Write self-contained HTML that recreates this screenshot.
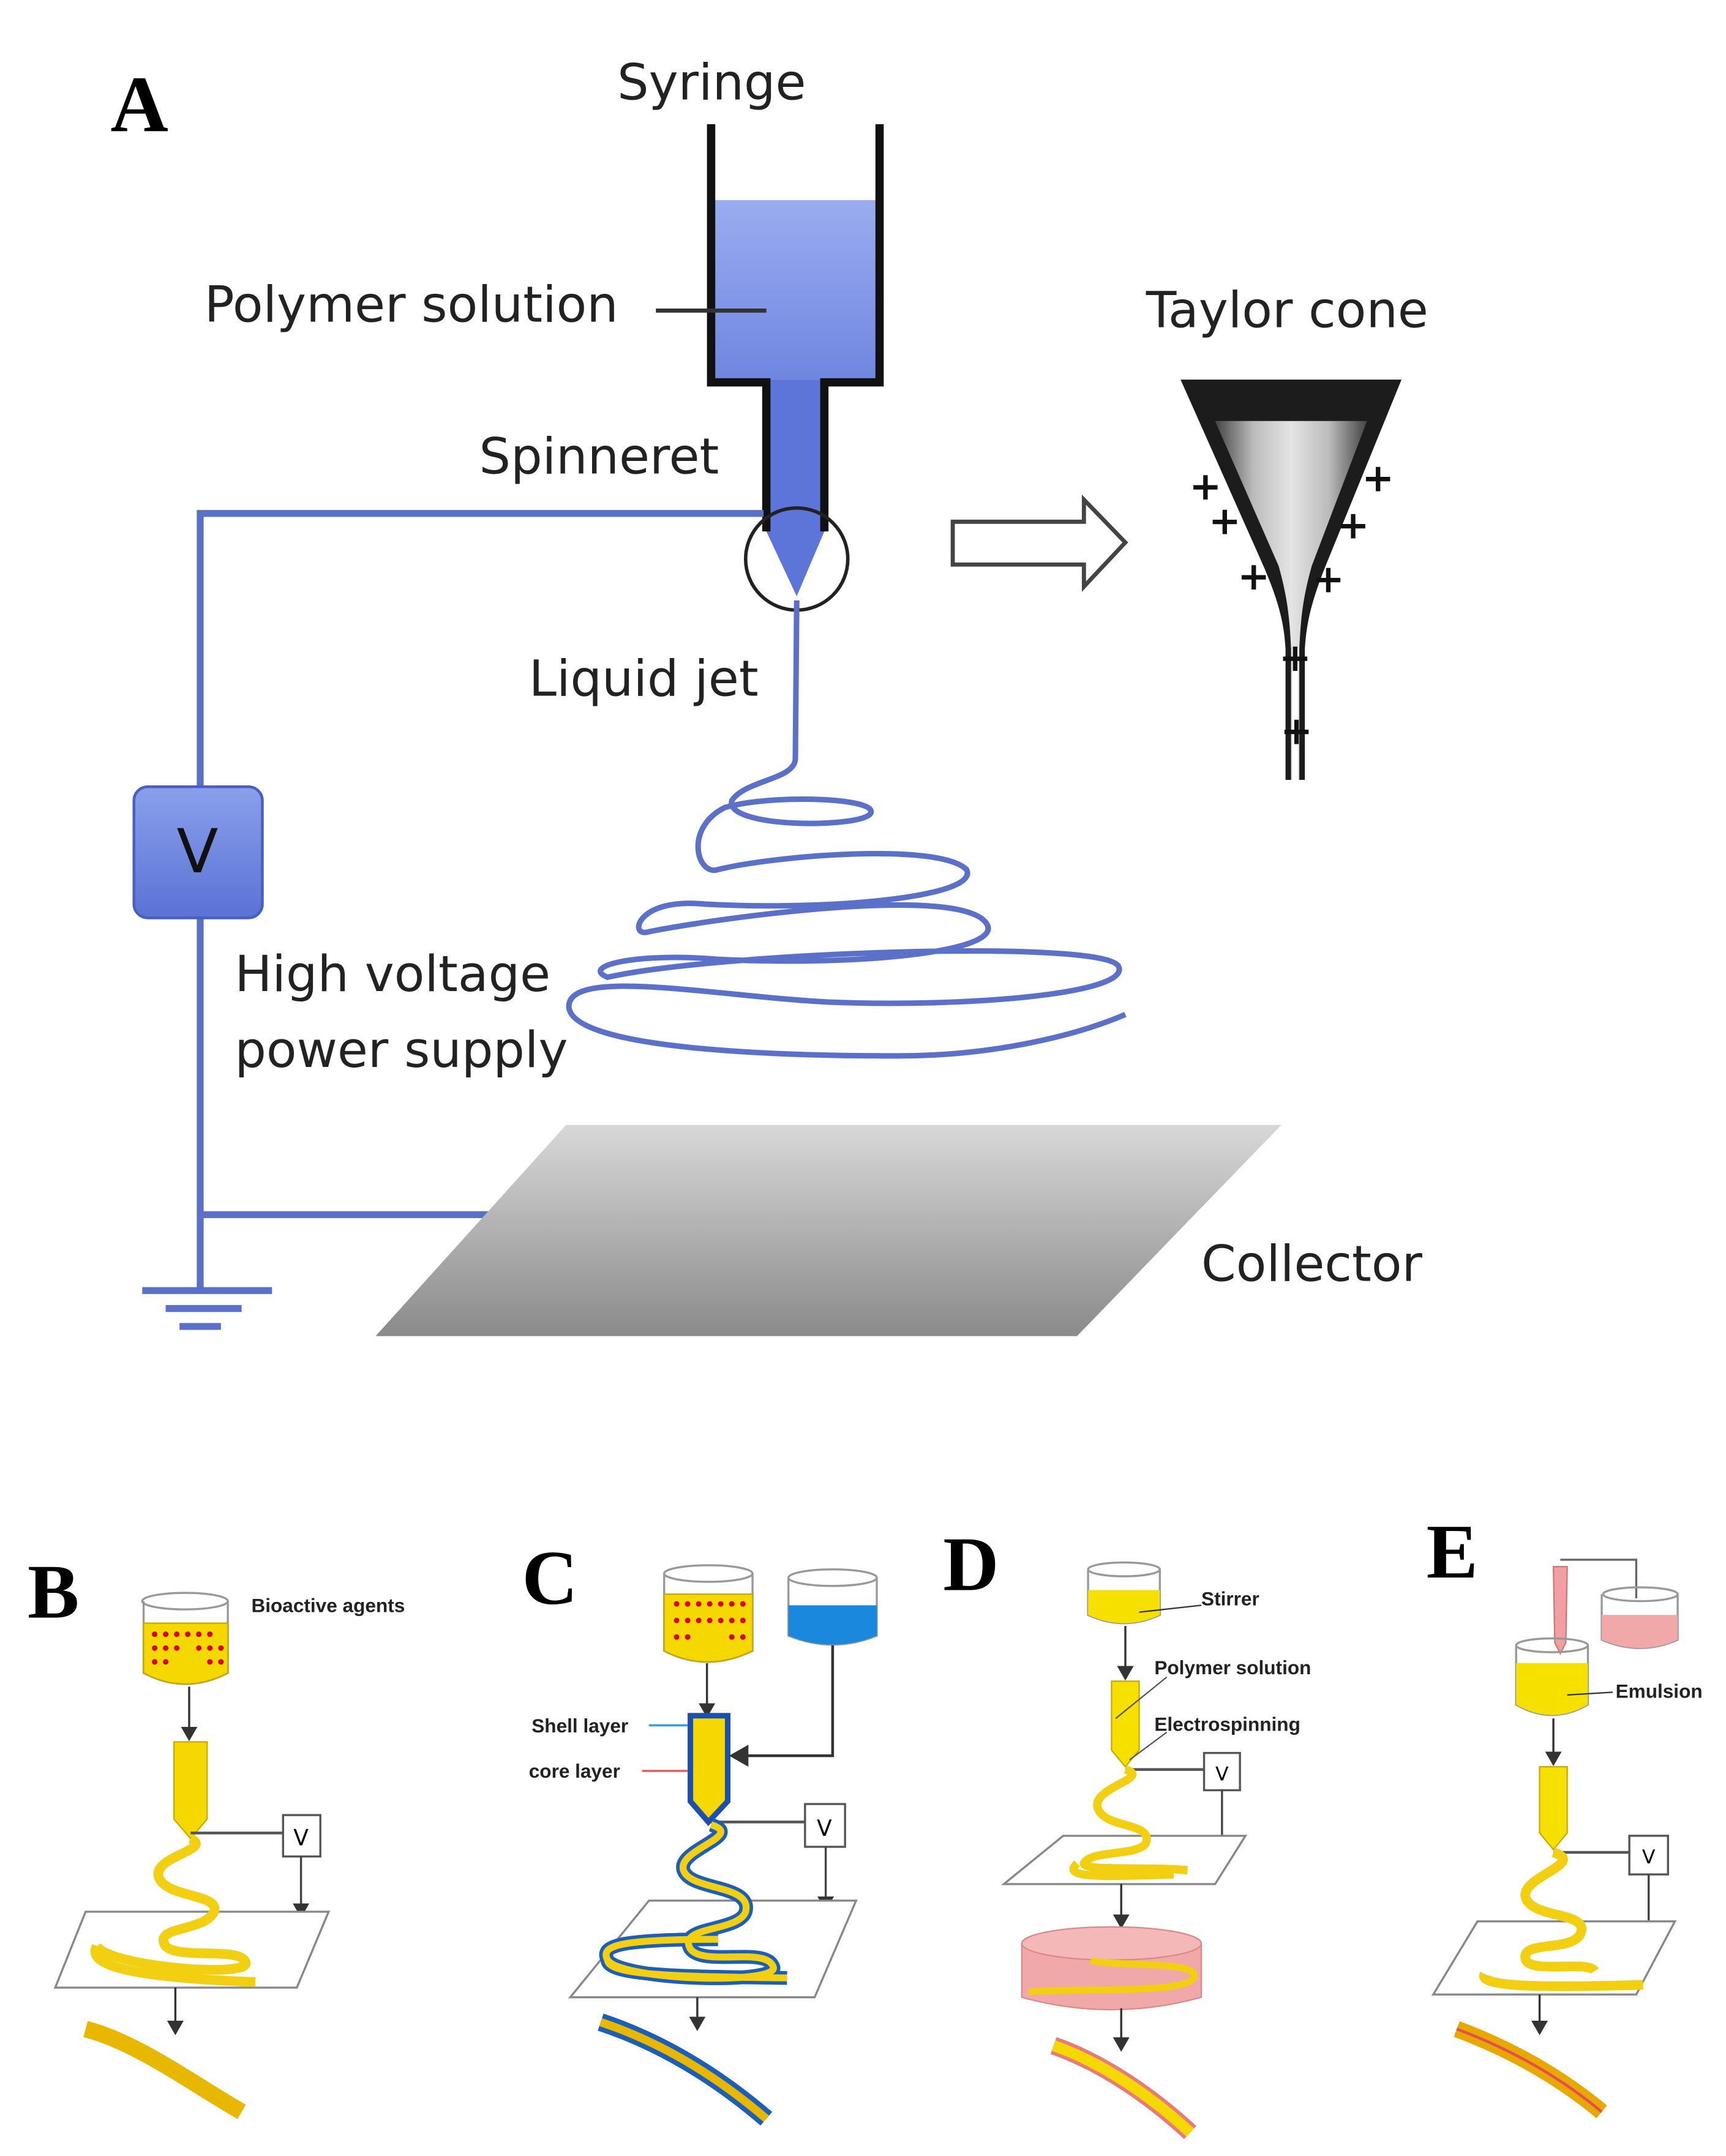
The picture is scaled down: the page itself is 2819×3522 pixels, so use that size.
<!DOCTYPE html>
<html><head><meta charset="utf-8"><style>
html,body{margin:0;padding:0;background:#fff}
svg{display:block}
text{font-family:"DejaVu Sans","Liberation Sans",sans-serif}
.lab{font-size:36px;fill:#222}
.big{font-family:"Liberation Serif",serif;font-weight:bold;fill:#000}
.sm{font-family:"Liberation Sans",sans-serif;font-size:14px;font-weight:bold;fill:#222}
</style></head><body>
<svg width="2819" height="3522" viewBox="0 0 1250 1562" preserveAspectRatio="none" xmlns="http://www.w3.org/2000/svg">
<defs>
<linearGradient id="sol" x1="0" y1="0" x2="0" y2="1"><stop offset="0" stop-color="#9aacf0"/><stop offset="1" stop-color="#6f86e0"/></linearGradient>
<linearGradient id="col" x1="0" y1="0" x2="0" y2="1"><stop offset="0" stop-color="#d8d8d8"/><stop offset="1" stop-color="#8a8a8a"/></linearGradient>
<linearGradient id="vb" x1="0" y1="0" x2="0" y2="1"><stop offset="0" stop-color="#8aa0ec"/><stop offset="1" stop-color="#5a72d4"/></linearGradient>
<linearGradient id="inner" x1="0" y1="0" x2="1" y2="0"><stop offset="0" stop-color="#444"/><stop offset="0.25" stop-color="#bbb"/><stop offset="0.5" stop-color="#e4e4e4"/><stop offset="0.75" stop-color="#bbb"/><stop offset="1" stop-color="#444"/></linearGradient>
<marker id="ar" markerWidth="8" markerHeight="8" refX="6" refY="4" orient="auto"><path d="M0,0 L7,4 L0,8z" fill="#333"/></marker>
</defs>

<text x="80" y="95" class="big" font-size="58">A</text>
<text x="447" y="72" class="lab">Syringe</text>
<text x="148" y="233" class="lab">Polymer solution</text>
<text x="830" y="237" class="lab">Taylor cone</text>
<text x="347" y="343" class="lab">Spinneret</text>
<text x="383" y="504" class="lab">Liquid jet</text>
<text x="170" y="718" class="lab">High voltage</text>
<text x="170" y="773" class="lab">power supply</text>
<text x="870" y="928" class="lab">Collector</text>

<!-- syringe -->
<rect x="517" y="145" width="118" height="130" fill="url(#sol)"/>
<path d="M555,275 L597,275 L597,385 L577,432 L555,385z" fill="#5d75d8"/>
<path d="M515,90 L515,277 L555,277 L555,385 M637,90 L637,277 L597,277 L597,385" fill="none" stroke="#111" stroke-width="6"/>
<line x1="475" y1="225" x2="555" y2="225" stroke="#333" stroke-width="3"/>
<circle cx="577" cy="405" r="37" fill="none" stroke="#222" stroke-width="2.5"/>

<!-- wires -->
<path d="M553,372 L145,372 L145,935 M145,880 L360,880" fill="none" stroke="#5b70c8" stroke-width="5"/>
<rect x="97" y="570" width="93" height="95" rx="10" fill="url(#vb)" stroke="#4a60c0" stroke-width="2"/>
<text x="143" y="632" text-anchor="middle" font-size="44" fill="#111">V</text>
<line x1="103" y1="935" x2="197" y2="935" stroke="#5b70c8" stroke-width="5"/>
<line x1="120" y1="948" x2="175" y2="948" stroke="#5b70c8" stroke-width="5"/>
<line x1="130" y1="961" x2="160" y2="961" stroke="#5b70c8" stroke-width="5"/>

<!-- jet -->
<path d="M577,435 L576,550 C575,565 540,565 530,580 C525,600 620,600 630,590 C640,578 560,575 525,585 C495,600 505,635 520,630 C560,620 680,610 700,630 C710,650 600,660 510,655 C460,650 455,680 470,675 C520,665 700,640 715,670 C725,690 620,700 520,695 C460,690 420,700 440,708 C520,690 800,680 810,700 C820,720 700,730 600,726 C520,722 410,700 412,730 C416,760 560,765 650,765 C720,765 780,750 815,735" fill="none" stroke="#5b70c8" stroke-width="4"/>

<!-- collector -->
<polygon points="410,815 928,815 780,968 272,968" fill="url(#col)"/>

<!-- arrow -->
<path d="M690,378 L785,378 L785,362 L815,393 L785,425 L785,409 L690,409z" fill="#fff" stroke="#444" stroke-width="3"/>

<!-- taylor cone -->
<path d="M855,275 L1015,275 L960,410 C948,440 946,455 945,470 L945,565 L931,565 L931,470 C930,455 928,440 915,410z" fill="#1c1c1c"/>
<path d="M880,305 L990,305 L950,410 C943,435 942,450 941,470 L941,565 L935,565 L935,470 C934,450 933,435 926,410z" fill="url(#inner)"/>
<rect x="936" y="470" width="4" height="95" fill="#fff"/>
<g fill="#111" font-size="28" font-weight="bold" text-anchor="middle">
<text x="873" y="362">+</text><text x="998" y="356">+</text><text x="887" y="387">+</text><text x="980" y="390">+</text>
<text x="908" y="427">+</text><text x="962" y="429">+</text><text x="938" y="486">+</text><text x="939" y="539">+</text></g>

<!-- B -->
<text x="20" y="1172" class="big" font-size="56">B</text>
<path d="M104,1160 L104,1212 Q134,1228 165,1212 L165,1160" fill="none" stroke="#999" stroke-width="1.5"/>
<ellipse cx="134" cy="1160" rx="31" ry="6" fill="none" stroke="#999" stroke-width="1.5"/>
<path d="M104,1176 L104,1212 Q134,1228 165,1212 L165,1176z" fill="#f5d800" stroke="#cca800"/>
<g fill="#d00">
<circle cx="112" cy="1184" r="2"/><circle cx="120" cy="1184" r="2"/><circle cx="128" cy="1184" r="2"/><circle cx="136" cy="1184" r="2"/><circle cx="144" cy="1184" r="2"/><circle cx="152" cy="1184" r="2"/>
<circle cx="112" cy="1194" r="2"/><circle cx="120" cy="1194" r="2"/><circle cx="128" cy="1194" r="2"/><circle cx="144" cy="1194" r="2"/><circle cx="152" cy="1194" r="2"/><circle cx="160" cy="1194" r="2"/>
<circle cx="112" cy="1204" r="2"/><circle cx="120" cy="1204" r="2"/><circle cx="152" cy="1204" r="2"/><circle cx="160" cy="1204" r="2"/></g>
<text x="182" y="1168" class="sm">Bioactive agents</text>
<line x1="137" y1="1222" x2="137" y2="1260" stroke="#333" stroke-width="1.5" marker-end="url(#ar)"/>
<path d="M126,1262 L150,1262 L150,1318 L138,1332 L126,1318z" fill="#f5d800" stroke="#cca800"/>
<path d="M138,1328 L205,1328" stroke="#555" stroke-width="2"/>
<rect x="205" y="1315" width="27" height="30" fill="#fff" stroke="#555" stroke-width="1.5"/><text x="218" y="1337" text-anchor="middle" font-size="16">V</text>
<line x1="218" y1="1345" x2="218" y2="1388" stroke="#444" stroke-width="1.5" marker-end="url(#ar)"/>
<polygon points="62,1385 238,1385 215,1440 40,1440" fill="#fff" stroke="#888" stroke-width="1.5"/>
<path d="M138,1332 C155,1340 110,1345 115,1360 C120,1375 160,1372 155,1385 C148,1400 110,1395 120,1410 C130,1420 175,1410 178,1422 C180,1433 80,1425 70,1410 M70,1410 C65,1420 75,1432 185,1436" fill="none" stroke="#f2cf10" stroke-width="7"/>
<line x1="127" y1="1440" x2="127" y2="1473" stroke="#333" stroke-width="1.5" marker-end="url(#ar)"/>
<path d="M62,1470 C100,1480 140,1510 175,1530" fill="none" stroke="#e8b800" stroke-width="12"/>

<!-- C -->
<text x="378" y="1162" class="big" font-size="56">C</text>
<path d="M481,1140 L481,1196 Q512,1212 545,1196 L545,1140" fill="none" stroke="#999" stroke-width="1.5"/>
<ellipse cx="513" cy="1140" rx="32" ry="6" fill="none" stroke="#999" stroke-width="1.5"/>
<path d="M481,1155 L481,1196 Q512,1212 545,1196 L545,1155z" fill="#f5d800" stroke="#cca800"/>
<g fill="#d00"><circle cx="490" cy="1162" r="2"/><circle cx="498" cy="1162" r="2"/><circle cx="506" cy="1162" r="2"/><circle cx="514" cy="1162" r="2"/><circle cx="522" cy="1162" r="2"/><circle cx="530" cy="1162" r="2"/><circle cx="538" cy="1162" r="2"/>
<circle cx="490" cy="1174" r="2"/><circle cx="498" cy="1174" r="2"/><circle cx="506" cy="1174" r="2"/><circle cx="514" cy="1174" r="2"/><circle cx="522" cy="1174" r="2"/><circle cx="530" cy="1174" r="2"/><circle cx="538" cy="1174" r="2"/>
<circle cx="490" cy="1186" r="2"/><circle cx="498" cy="1186" r="2"/><circle cx="530" cy="1186" r="2"/><circle cx="538" cy="1186" r="2"/></g>
<path d="M571,1143 L571,1185 Q603,1198 635,1185 L635,1143" fill="none" stroke="#999" stroke-width="1.5"/>
<ellipse cx="603" cy="1143" rx="32" ry="6" fill="none" stroke="#999" stroke-width="1.5"/>
<path d="M571,1163 L571,1185 Q603,1198 635,1185 L635,1163z" fill="#1a88dd"/>
<line x1="512" y1="1205" x2="512" y2="1243" stroke="#333" stroke-width="1.5" marker-end="url(#ar)"/>
<path d="M500,1243 L527,1243 L527,1305 L513,1320 L500,1305z" fill="#f5d800" stroke="#1b4fb0" stroke-width="4"/>
<path d="M603,1192 L603,1272 L530,1272" fill="none" stroke="#333" stroke-width="2" marker-end="url(#ar)"/>
<text x="385" y="1255" class="sm">Shell layer</text><line x1="470" y1="1250" x2="498" y2="1250" stroke="#39f" stroke-width="1.5"/>
<text x="383" y="1288" class="sm">core layer</text><line x1="465" y1="1283" x2="498" y2="1283" stroke="#e55" stroke-width="1.5"/>
<path d="M515,1320 L583,1320" stroke="#555" stroke-width="2"/>
<rect x="583" y="1307" width="29" height="31" fill="#fff" stroke="#555" stroke-width="1.5"/><text x="597" y="1330" text-anchor="middle" font-size="16">V</text>
<line x1="598" y1="1338" x2="598" y2="1383" stroke="#444" stroke-width="1.5" marker-end="url(#ar)"/>
<polygon points="470,1377 620,1377 590,1447 413,1447" fill="#fff" stroke="#888" stroke-width="1.5"/>
<path d="M515,1322 C540,1330 490,1340 495,1355 C500,1370 545,1365 540,1385 C535,1400 490,1395 500,1412 C510,1425 555,1410 560,1425 C565,1438 450,1435 440,1420 C435,1410 445,1405 520,1405 M440,1420 C440,1432 500,1432 570,1433" fill="none" stroke="#1b5fb8" stroke-width="10"/>
<path d="M515,1322 C540,1330 490,1340 495,1355 C500,1370 545,1365 540,1385 C535,1400 490,1395 500,1412 C510,1425 555,1410 560,1425 C565,1438 450,1435 440,1420 C435,1410 445,1405 520,1405 M440,1420 C440,1432 500,1432 570,1433" fill="none" stroke="#f2cf10" stroke-width="5"/>
<line x1="505" y1="1447" x2="505" y2="1470" stroke="#333" stroke-width="1.5" marker-end="url(#ar)"/>
<path d="M435,1465 C480,1480 520,1505 555,1535" fill="none" stroke="#1b5fb8" stroke-width="13"/>
<path d="M435,1465 C480,1480 520,1505 555,1535" fill="none" stroke="#e8b800" stroke-width="6"/>

<!-- D -->
<text x="683" y="1152" class="big" font-size="56">D</text>
<path d="M788,1137 L788,1170 Q814,1182 840,1170 L840,1137" fill="none" stroke="#999" stroke-width="1.5"/>
<ellipse cx="814" cy="1137" rx="26" ry="5" fill="none" stroke="#999" stroke-width="1.5"/>
<path d="M788,1152 L788,1170 Q814,1182 840,1170 L840,1152z" fill="#f5e000"/>
<text x="870" y="1163" class="sm">Stirrer</text><line x1="825" y1="1168" x2="870" y2="1163" stroke="#333"/>
<line x1="815" y1="1178" x2="815" y2="1216" stroke="#333" stroke-width="1.5" marker-end="url(#ar)"/>
<path d="M805,1218 L825,1218 L825,1268 L815,1280 L805,1268z" fill="#f5e000" stroke="#cca800"/>
<text x="836" y="1213" class="sm">Polymer solution</text>
<text x="836" y="1254" class="sm">Electrospinning</text>
<line x1="845" y1="1215" x2="808" y2="1245" stroke="#555"/><line x1="845" y1="1255" x2="818" y2="1275" stroke="#555"/>
<path d="M815,1282 L872,1282" stroke="#555" stroke-width="2"/>
<rect x="872" y="1270" width="26" height="27" fill="#fff" stroke="#555" stroke-width="1.5"/><text x="885" y="1290" text-anchor="middle" font-size="14">V</text>
<line x1="885" y1="1297" x2="885" y2="1338" stroke="#444" stroke-width="1.5"/>
<polygon points="770,1330 902,1330 880,1365 727,1365" fill="#fff" stroke="#888" stroke-width="1.5"/>
<path d="M815,1282 C835,1288 790,1295 795,1310 C800,1325 835,1320 830,1335 C825,1345 790,1340 785,1350 C785,1356 830,1352 860,1355 M780,1350 C770,1360 790,1360 850,1358" fill="none" stroke="#f2cf10" stroke-width="6"/>
<line x1="812" y1="1365" x2="812" y2="1396" stroke="#333" stroke-width="1.5" marker-end="url(#ar)"/>
<path d="M740,1408 L740,1447 Q805,1465 870,1447 L870,1408" fill="#f0a8a8" stroke="#d88"/>
<ellipse cx="805" cy="1408" rx="65" ry="12" fill="#f4b8b8" stroke="#d88"/>
<path d="M745,1443 C790,1440 860,1445 865,1432 C868,1420 800,1425 790,1420" fill="none" stroke="#f2cf10" stroke-width="5"/>
<line x1="812" y1="1455" x2="812" y2="1485" stroke="#333" stroke-width="1.5" marker-end="url(#ar)"/>
<path d="M763,1482 C800,1495 835,1520 862,1545" fill="none" stroke="#e87a7a" stroke-width="13"/>
<path d="M763,1482 C800,1495 835,1520 862,1545" fill="none" stroke="#f5d800" stroke-width="8"/>

<!-- E -->
<text x="1033" y="1143" class="big" font-size="56">E</text>
<path d="M1130,1130 L1185,1130 L1185,1158" fill="none" stroke="#666" stroke-width="1.5"/>
<path d="M1125,1135 L1135,1135 L1134,1190 L1130,1198 L1126,1190z" fill="#f0a0a0" stroke="#c77"/>
<path d="M1160,1155 L1160,1188 Q1188,1200 1215,1188 L1215,1155" fill="none" stroke="#999" stroke-width="1.5"/>
<ellipse cx="1188" cy="1155" rx="27" ry="5" fill="none" stroke="#999" stroke-width="1.5"/>
<path d="M1160,1170 L1160,1188 Q1188,1200 1215,1188 L1215,1170z" fill="#f0a8a8"/>
<path d="M1098,1192 L1098,1235 Q1124,1250 1150,1235 L1150,1192" fill="none" stroke="#999" stroke-width="1.5"/>
<ellipse cx="1124" cy="1192" rx="26" ry="5" fill="none" stroke="#999" stroke-width="1.5"/>
<path d="M1098,1205 L1098,1235 Q1124,1250 1150,1235 L1150,1205z" fill="#f5e000"/>
<text x="1170" y="1230" class="sm">Emulsion</text><line x1="1135" y1="1228" x2="1168" y2="1226" stroke="#333"/>
<line x1="1125" y1="1245" x2="1125" y2="1278" stroke="#333" stroke-width="1.5" marker-end="url(#ar)"/>
<path d="M1115,1280 L1135,1280 L1135,1328 L1125,1340 L1115,1328z" fill="#f5e000" stroke="#cca800"/>
<path d="M1125,1342 L1180,1342" stroke="#555" stroke-width="2"/>
<rect x="1180" y="1330" width="28" height="28" fill="#fff" stroke="#555" stroke-width="1.5"/><text x="1194" y="1350" text-anchor="middle" font-size="14">V</text>
<line x1="1194" y1="1358" x2="1194" y2="1398" stroke="#444" stroke-width="1.5"/>
<polygon points="1070,1392 1213,1392 1185,1445 1038,1445" fill="#fff" stroke="#888" stroke-width="1.5"/>
<path d="M1125,1342 C1150,1350 1100,1360 1105,1375 C1110,1390 1150,1385 1145,1400 C1140,1415 1100,1405 1105,1420 C1110,1430 1150,1420 1155,1428 M1075,1430 C1070,1440 1120,1440 1190,1438" fill="none" stroke="#f2cf10" stroke-width="7"/>
<line x1="1115" y1="1445" x2="1115" y2="1473" stroke="#333" stroke-width="1.5" marker-end="url(#ar)"/>
<path d="M1055,1470 C1095,1485 1130,1505 1160,1530" fill="none" stroke="#e8a800" stroke-width="12"/>
<path d="M1055,1470 C1095,1485 1130,1505 1160,1530" fill="none" stroke="#e05050" stroke-width="2"/>
</svg>
</body></html>
